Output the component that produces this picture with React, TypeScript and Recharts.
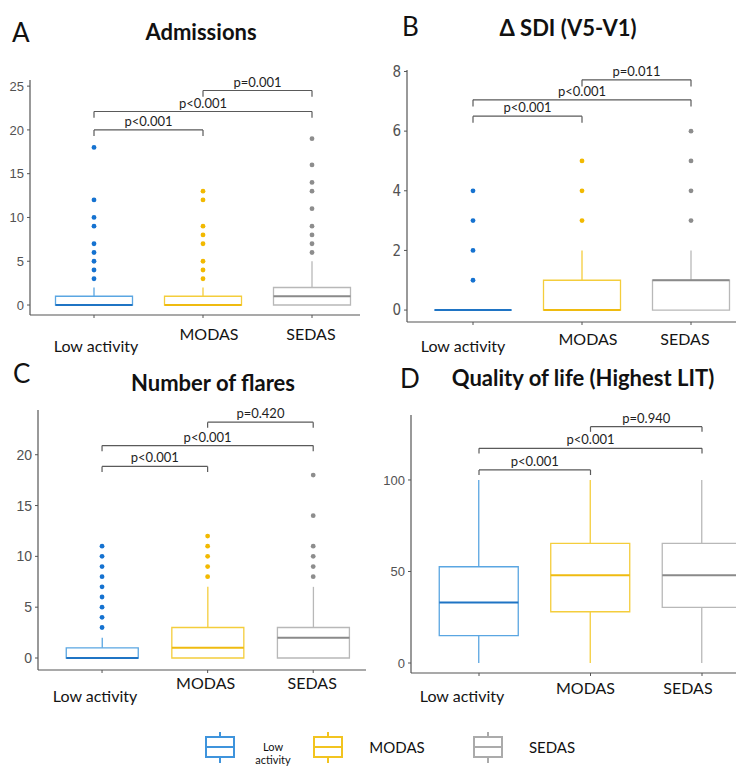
import React from 'react';
import { ComposedChart, Bar, Line, XAxis, YAxis, ReferenceLine } from 'recharts';

// ---------- shared categories ----------
const categories = ['Low activity', 'MODAS', 'SEDAS'];

// ---------- Panel A: Admissions ----------
const admMin = [0, 0, 0];
const admQ1 = [0, 0, 0];
const admMedian = [0, 0, 1];
const admQ3 = [1, 1, 2];
const admMax = [2, 2, 5];
const admOutliers = [
  [18, 12, 10, 9, 7, 6, 5, 4, 3],
  [13, 12, 9, 8, 7, 5, 4, 3],
  [19, 16, 14, 13, 11, 9, 8, 7, 6],
];
const admTicks = [0, 5, 10, 15, 20, 25];
const admDomain = [-1.14, 25.7];
const admBrackets = [
  { from: 'Low activity', to: 'MODAS', y: 20, tip: 0.7, label: 'p<0.001' },
  { from: 'Low activity', to: 'SEDAS', y: 22.1, tip: 0.7, label: 'p<0.001' },
  { from: 'MODAS', to: 'SEDAS', y: 24.5, tip: 0.7, label: 'p=0.001' },
];

// ---------- Panel B: Delta SDI ----------
const sdiMin = [0, 0, 0];
const sdiQ1 = [0, 0, 0];
const sdiMedian = [0, 0, 1];
const sdiQ3 = [0, 1, 1];
const sdiMax = [0, 2, 2];
const sdiOutliers = [
  [4, 3, 2, 1],
  [5, 4, 3],
  [6, 5, 4, 3],
];
const sdiTicks = [0, 2, 4, 6, 8];
const sdiDomain = [-0.4, 8.05];
const sdiBrackets = [
  { from: 'Low activity', to: 'MODAS', y: 6.5, tip: 0.22, label: 'p<0.001' },
  { from: 'Low activity', to: 'SEDAS', y: 7.05, tip: 0.22, label: 'p<0.001' },
  { from: 'MODAS', to: 'SEDAS', y: 7.72, tip: 0.22, label: 'p=0.011' },
];

// ---------- Panel C: Number of flares ----------
const flrMin = [0, 0, 0];
const flrQ1 = [0, 0, 0];
const flrMedian = [0, 1, 2];
const flrQ3 = [1, 3, 3];
const flrMax = [2, 7, 7];
const flrOutliers = [
  [11, 10, 9, 8, 7, 6, 5, 4, 3],
  [12, 11, 10, 9, 8],
  [18, 14, 11, 10, 9, 8],
];
const flrTicks = [0, 5, 10, 15, 20];
const flrDomain = [-1.18, 24.4];
const flrBrackets = [
  { from: 'Low activity', to: 'MODAS', y: 18.85, tip: 0.55, label: 'p<0.001' },
  { from: 'Low activity', to: 'SEDAS', y: 20.9, tip: 0.55, label: 'p<0.001' },
  { from: 'MODAS', to: 'SEDAS', y: 23.2, tip: 0.55, label: 'p=0.420' },
];

// ---------- Panel D: Quality of life ----------
const qolMin = [0, 0, 0];
const qolQ1 = [15, 28, 30.4];
const qolMedian = [33, 48, 48];
const qolQ3 = [52.6, 65.4, 65.4];
const qolMax = [100, 100, 100];
const qolOutliers: number[][] = [[], [], []];
const qolTicks = [0, 50, 100];
const qolDomain = [-5.46, 135.5];
const qolBrackets = [
  { from: 'Low activity', to: 'MODAS', y: 105.5, tip: 2.8, label: 'p<0.001' },
  { from: 'Low activity', to: 'SEDAS', y: 117.3, tip: 2.8, label: 'p<0.001' },
  { from: 'MODAS', to: 'SEDAS', y: 129.1, tip: 2.8, label: 'p=0.940' },
];

// ---------- styles ----------
const COLORS = [
  { box: '#5aa6e2', med: '#1f74c4', dot: '#1572d0' },
  { box: '#f4cd3c', med: '#efbb10', dot: '#f2b900' },
  { box: '#b8b8b8', med: '#8a8a8a', dot: '#8d8d8d' },
];
const AXIS_COLOR = '#555555';
const TEXT_FONT = 'Lato, "Open Sans", sans-serif';
const NUM_FONT = '"Liberation Sans", Arial, sans-serif';
const NARROW_FONT = '"Liberation Sans Narrow", "DejaVu Sans Condensed", "Liberation Sans", Arial, sans-serif';

function buildRows(mins: number[], q1s: number[], meds: number[], q3s: number[], maxs: number[], outs: number[][]) {
  return categories.map((name, i) => {
    const row: any = { name, min: mins[i], q1: q1s[i], med: meds[i], q3: q3s[i], max: maxs[i] };
    outs[i].forEach((v, j) => {
      row['o' + j] = v;
    });
    return row;
  });
}

const catIndex = (p: any) => Math.max(0, categories.indexOf(p && p.name));

const WhiskerShape = (props: any) => {
  const { x, y, width, height, payload } = props;
  if (x == null || y == null) return <g />;
  const c = COLORS[catIndex(payload)];
  const cx = x + width / 2;
  const top = Math.min(y, y + height);
  const bot = Math.max(y, y + height);
  return <line x1={cx} x2={cx} y1={top} y2={bot} stroke={c.box} strokeWidth={1.3} />;
};

const BoxShape = (props: any) => {
  const { x, y, width, height, payload } = props;
  if (x == null || y == null) return <g />;
  const c = COLORS[catIndex(payload)];
  const top = Math.min(y, y + height);
  const bot = Math.max(y, y + height);
  const d = `M${x},${top} H${x + width} V${bot} H${x} Z`;
  return <path d={d} fill="#ffffff" stroke={c.box} strokeWidth={1.3} />;
};

const MedianShape = (props: any) => {
  const { x, y, width, payload } = props;
  if (x == null || y == null) return <g />;
  const c = COLORS[catIndex(payload)];
  return <line x1={x} x2={x + width} y1={y} y2={y} stroke={c.med} strokeWidth={2} />;
};

const OutlierDot = (props: any) => {
  const { cx, cy, payload, value, index, dataKey } = props;
  const k = `${dataKey}-${index}`;
  if (cx == null || cy == null || value == null || Number.isNaN(cy)) return <g key={k} />;
  return <circle key={k} cx={cx} cy={cy} r={2.4} fill={COLORS[catIndex(payload)].dot} />;
};

type Layout = {
  left: number;
  top: number;
  width: number;
  height: number;
  margin: { top: number; right: number; bottom: number; left: number };
  yw: number;
  xh: number;
  padL: number;
  padR: number;
  barSize: number;
  dy: number;
  lowDy: number;
  dx: number[];
  tickFont: string;
  tickSize: number;
};

function BoxPanel(props: {
  rows: any[];
  domain: number[];
  ticks: number[];
  brackets: { from: string; to: string; y: number; tip: number; label: string }[];
  layout: Layout;
  nOut: number;
}) {
  const { rows, domain, ticks, brackets, layout: L, nOut } = props;
  const outKeys = Array.from({ length: nOut }, (_, j) => 'o' + j);

  const XTick = (p: any) => {
    const { x, y, payload } = p;
    const i = categories.indexOf(payload.value);
    const low = payload.value === 'Low activity';
    return (
      <text
        x={x + (L.dx[i] || 0)}
        y={y + (low ? L.lowDy : L.dy)}
        textAnchor="middle"
        fontFamily={TEXT_FONT}
        fontSize={16}
        fill="#141414"
      >
        {payload.value}
      </text>
    );
  };

  const bracketEls: any[] = [];
  brackets.forEach((b, i) => {
    bracketEls.push(
      <ReferenceLine
        key={`bh${i}`}
        segment={[
          { x: b.from, y: b.y },
          { x: b.to, y: b.y },
        ]}
        stroke="#5a5a5a"
        strokeWidth={1.2}
        ifOverflow="visible"
        label={{ value: b.label, position: 'top', offset: 4, fill: '#1e1e1e', fontSize: 13, fontFamily: TEXT_FONT }}
      />,
      <ReferenceLine
        key={`bl${i}`}
        segment={[
          { x: b.from, y: b.y },
          { x: b.from, y: b.y - b.tip },
        ]}
        stroke="#5a5a5a"
        strokeWidth={1.2}
        ifOverflow="visible"
      />,
      <ReferenceLine
        key={`br${i}`}
        segment={[
          { x: b.to, y: b.y },
          { x: b.to, y: b.y - b.tip },
        ]}
        stroke="#5a5a5a"
        strokeWidth={1.2}
        ifOverflow="visible"
      />
    );
  });

  return (
    <div style={{ position: 'absolute', left: L.left, top: L.top, width: L.width, height: L.height }}>
      <ComposedChart width={L.width} height={L.height} data={rows} margin={L.margin} barGap={-L.barSize}>
        <XAxis
          dataKey="name"
          type="category"
          height={L.xh}
          padding={{ left: L.padL, right: L.padR }}
          interval={0}
          tickSize={3}
          tickLine={{ stroke: AXIS_COLOR }}
          axisLine={{ stroke: AXIS_COLOR, strokeWidth: 1.2 }}
          tick={XTick}
        />
        <YAxis
          type="number"
          width={L.yw}
          domain={domain}
          ticks={ticks}
          allowDataOverflow
          interval={0}
          tickSize={3}
          tickMargin={3}
          tickLine={{ stroke: AXIS_COLOR }}
          axisLine={{ stroke: AXIS_COLOR, strokeWidth: 1.2 }}
          tick={{ fill: '#525252', fontSize: L.tickSize, fontFamily: L.tickFont }}
        />
        <Bar dataKey={(d: any) => [d.min, d.max]} barSize={L.barSize} shape={WhiskerShape} isAnimationActive={false} />
        <Bar dataKey={(d: any) => [d.q1, d.q3]} barSize={L.barSize} shape={BoxShape} isAnimationActive={false} />
        <Bar dataKey={(d: any) => [d.med, d.med]} barSize={L.barSize} shape={MedianShape} isAnimationActive={false} />
        {outKeys.map((k) => (
          <Line
            key={k}
            dataKey={k}
            stroke="none"
            dot={OutlierDot}
            activeDot={false}
            isAnimationActive={false}
            legendType="none"
          />
        ))}
        {bracketEls}
      </ComposedChart>
    </div>
  );
}

const layoutA: Layout = {
  left: 0, top: 0, width: 368, height: 360,
  margin: { top: 80, right: 8, bottom: 0, left: 0 },
  yw: 30, xh: 45, padL: 9.5, padR: -6.5, barSize: 77,
  dy: 20, lowDy: 32, dx: [2, 6, -1], tickFont: NUM_FONT, tickSize: 13,
};
const layoutB: Layout = {
  left: 368, top: 0, width: 368, height: 360,
  margin: { top: 70, right: 0, bottom: 0, left: 0 },
  yw: 39, xh: 38, padL: 11.5, padR: -9.5, barSize: 77,
  dy: 18, lowDy: 25, dx: [-10, 6, -6], tickFont: NARROW_FONT, tickSize: 15,
};
const layoutC: Layout = {
  left: 0, top: 360, width: 368, height: 360,
  margin: { top: 50, right: 2, bottom: 0, left: 0 },
  yw: 38, xh: 50, padL: 11.25, padR: 0, barSize: 72,
  dy: 14, lowDy: 27, dx: [-7, -2, -1], tickFont: NUM_FONT, tickSize: 14,
};
const layoutD: Layout = {
  left: 368, top: 360, width: 368, height: 360,
  margin: { top: 55, right: 0, bottom: 0, left: 0 },
  yw: 43, xh: 47, padL: 12.25, padR: -21.75, barSize: 79,
  dy: 16, lowDy: 24, dx: [-17, -5, -14], tickFont: NUM_FONT, tickSize: 13,
};

const maxLen = (o: number[][]) => Math.max(0, ...o.map((a) => a.length));

function Txt(props: { x: number; y: number; size: number; bold?: boolean; anchor?: 'left' | 'center'; children: any }) {
  const { x, y, size, bold, anchor = 'center', children } = props;
  return (
    <div
      style={{
        position: 'absolute',
        left: x,
        top: y,
        transform: anchor === 'center' ? 'translate(-50%, -50%)' : 'translate(0, -50%)',
        fontFamily: TEXT_FONT,
        fontSize: size,
        fontWeight: bold ? 700 : 400,
        lineHeight: 1,
        whiteSpace: 'nowrap',
        color: '#111',
      }}
    >
      {children}
    </div>
  );
}

function LegendIcon(props: { x: number; y: number; color: string }) {
  const { x, y, color } = props;
  return (
    <svg style={{ position: 'absolute', left: x, top: y }} width={32} height={32}>
      <line x1={16} x2={16} y1={0} y2={5} stroke={color} strokeWidth={2} />
      <line x1={16} x2={16} y1={25} y2={31} stroke={color} strokeWidth={2} />
      <rect x={2} y={5} width={28} height={20} fill="#fff" stroke={color} strokeWidth={2} />
      <line x1={2} x2={30} y1={15} y2={15} stroke={color} strokeWidth={2} />
    </svg>
  );
}

export default function App() {
  const rowsA = buildRows(admMin, admQ1, admMedian, admQ3, admMax, admOutliers);
  const rowsB = buildRows(sdiMin, sdiQ1, sdiMedian, sdiQ3, sdiMax, sdiOutliers);
  const rowsC = buildRows(flrMin, flrQ1, flrMedian, flrQ3, flrMax, flrOutliers);
  const rowsD = buildRows(qolMin, qolQ1, qolMedian, qolQ3, qolMax, qolOutliers);

  return (
    <div style={{ position: 'absolute', left: 0, top: 0, width: 736, height: 766, background: '#fff', overflow: 'hidden' }}>
      <BoxPanel rows={rowsA} domain={admDomain} ticks={admTicks} brackets={admBrackets} layout={layoutA} nOut={maxLen(admOutliers)} />
      <BoxPanel rows={rowsB} domain={sdiDomain} ticks={sdiTicks} brackets={sdiBrackets} layout={layoutB} nOut={maxLen(sdiOutliers)} />
      <BoxPanel rows={rowsC} domain={flrDomain} ticks={flrTicks} brackets={flrBrackets} layout={layoutC} nOut={maxLen(flrOutliers)} />
      <BoxPanel rows={rowsD} domain={qolDomain} ticks={qolTicks} brackets={qolBrackets} layout={layoutD} nOut={maxLen(qolOutliers)} />

      <Txt x={12} y={32} size={26} anchor="left">A</Txt>
      <Txt x={201} y={32} size={22} bold>Admissions</Txt>
      <Txt x={402} y={26} size={26} anchor="left">B</Txt>
      <Txt x={568} y={28} size={22} bold>Δ SDI (V5-V1)</Txt>
      <Txt x={13} y={373} size={26} anchor="left">C</Txt>
      <Txt x={213} y={383} size={22} bold>Number of flares</Txt>
      <Txt x={400} y={378} size={26} anchor="left">D</Txt>
      <Txt x={583} y={378} size={22} bold>Quality of life (Highest LIT)</Txt>

      <LegendIcon x={204} y={732} color="#3f94dc" />
      <Txt x={273} y={746} size={11}>Low</Txt>
      <Txt x={273} y={759} size={11}>activity</Txt>
      <LegendIcon x={312} y={732} color="#f2c420" />
      <Txt x={397} y={747} size={15}>MODAS</Txt>
      <LegendIcon x={472} y={732} color="#ababab" />
      <Txt x={552} y={747} size={15}>SEDAS</Txt>
    </div>
  );
}
